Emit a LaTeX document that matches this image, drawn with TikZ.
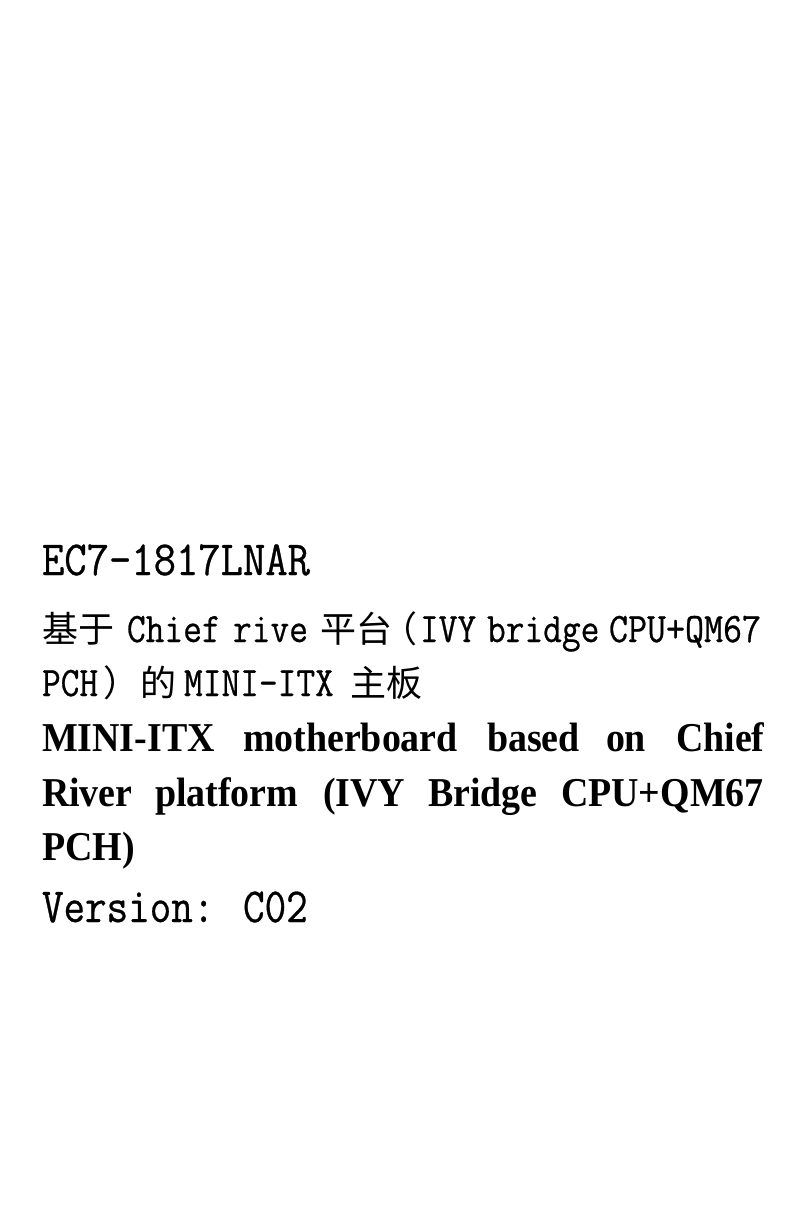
\documentclass[tikz,border=0pt]{standalone}
\usepackage{fontspec}
\newfontfamily\mono[FakeStretch=0.866,FakeBold=0.6]{Latin Modern Mono}
\newfontfamily\cjk{Noto Sans CJK SC}
\setmainfont[FakeStretch=0.925]{Liberation Serif}
\tikzset{
 line/.style={anchor=base west,inner sep=0pt,outer sep=0pt,text=black},
 big/.style={line,font=\mono\fontsize{49}{49}\selectfont},
 mid/.style={line,font=\mono\fontsize{42}{42}\selectfont},
 cj/.style={line,font=\cjk\fontsize{36}{36}\selectfont},
 bold/.style={line,font=\bfseries\fontsize{41}{41}\selectfont}
}
\begin{document}
\begin{tikzpicture}[x=1pt,y=-1pt]
\useasboundingbox[fill=white] (0,0) rectangle (808,1207);
\node[big,xscale=1.022] (title) at (42,575) {EC7-1817LNAR};
\node[cj] (a1) at (42,642) {基于};
\node[mid] (a2) at (127,642) {Chief};
\node[mid] (a3) at (233,642) {rive};
\node[cj] (a4) at (320,642) {平台};
\node[cj] (a4p) at (381,642) {（};
\node[mid] (a5) at (420,642) {IVY};
\node[mid] (a6) at (487,642) {bridge};
\node[mid,xscale=1.015] (a7) at (609,642) {CPU+QM67};
\node[mid] (b1) at (42,696) {PCH};
\node[cj] (b0) at (103,696) {）};
\node[cj] (b2) at (140,696) {的};
\node[mid] (b3) at (184,696) {MINI-ITX};
\node[cj] (b4) at (350,696) {主板};
\node[bold] (c1) at (42,751) {MINI-ITX};
\node[bold] (c2) at (243,751) {motherboard};
\node[bold] (c3) at (487,751) {based};
\node[bold] (c4) at (606,751) {on};
\node[bold] (c5) at (676,751) {Chief};
\node[bold] (d1) at (42,806) {River};
\node[bold] (d2) at (155,806) {platform};
\node[bold] (d3) at (323,806) {(IVY};
\node[bold] (d4) at (428,806) {Bridge};
\node[bold] (d5) at (561,806) {CPU+QM67};
\node[bold] (e1) at (42,860) {PCH)};
\node[big,xscale=0.986] (v) at (42,922) {Version: C02};
\end{tikzpicture}
\end{document}
